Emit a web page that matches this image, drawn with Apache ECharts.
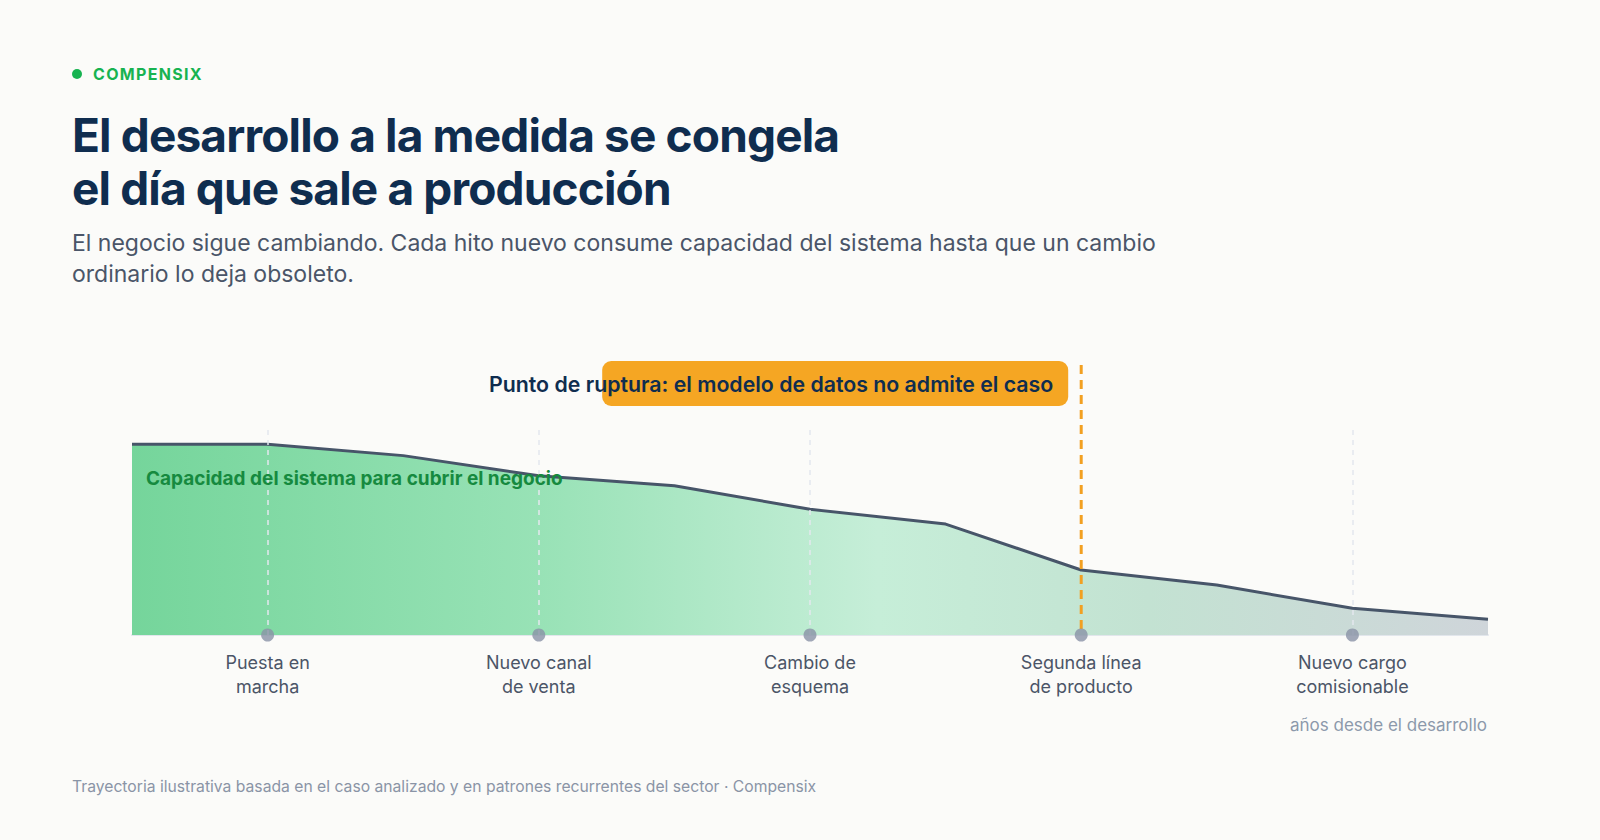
<!DOCTYPE html>
<html>
<head>
<meta charset="utf-8">
<script src="https://cdn.jsdelivr.net/npm/echarts@6/dist/echarts.min.js"></script>
<style>
  html, body { margin: 0; padding: 0; background: #fbfbf9; }
  body { width: 1600px; height: 840px; position: relative; overflow: hidden; font-family: Inter, "Noto Sans", sans-serif; }
  #chart { position: absolute; left: 0; top: 0; width: 1600px; height: 840px; }
  .brand { position: absolute; left: 72px; top: 64px; height: 20px; display: flex; align-items: center; font-weight: 700; font-size: 16px; letter-spacing: 1.3px; color: #17b351; }
  .brand i { display: inline-block; width: 10px; height: 10px; border-radius: 50%; background: #17b351; margin-right: 11px; }
  h1 { position: absolute; left: 72px; top: 109px; margin: 0; font-size: 46px; line-height: 53px; font-weight: 700; color: #0f2d4f; letter-spacing: -0.85px; }
  .sub { position: absolute; left: 72px; top: 228px; margin: 0; font-size: 23px; line-height: 31px; color: #4a5568; }
  .caption { position: absolute; right: 113px; top: 714px; font-size: 17px; line-height: 22px; color: #8c99ab; }
  .foot { position: absolute; left: 72px; top: 777px; font-size: 15.7px; line-height: 20px; color: #8a94a6; }
</style>
</head>
<body>
<div id="chart"></div>
<div class="brand"><i></i>COMPENSIX</div>
<h1>El desarrollo a la medida se congela<br>el día que sale a producción</h1>
<p class="sub">El negocio sigue cambiando. Cada hito nuevo consume capacidad del sistema hasta que un cambio<br>ordinario lo deja obsoleto.</p>
<div class="caption">años desde el desarrollo</div>
<div class="foot">Trayectoria ilustrativa basada en el caso analizado y en patrones recurrentes del sector · Compensix</div>
<script>
// ---- data ----
const years = ['0', '1', '2', '3', '4', '5', '6', '7', '8', '9', '10'];
const capacity = [93, 93, 87.5, 77.7, 72.8, 61.3, 54.1, 31.7, 24.4, 13.0, 7.7];
const milestoneYears = ['1', '3', '5', '7', '9'];
const milestoneLabels = ['Puesta en\nmarcha', 'Nuevo canal\nde venta', 'Cambio de\nesquema', 'Segunda línea\nde producto', 'Nuevo cargo\ncomisionable'];
const breakYear = '7';
const breakLabel = 'Punto de ruptura: el modelo de datos no admite el caso';
const seriesLabel = 'Capacidad del sistema para cubrir el negocio';

const FONT = 'Inter, "Noto Sans", sans-serif';
const labelFor = {};
milestoneYears.forEach((y, i) => { labelFor[y] = milestoneLabels[i]; });

const chart = echarts.init(document.getElementById('chart'), null, { renderer: 'svg' });

chart.setOption({
  backgroundColor: 'transparent',
  animation: false,
  grid: { left: 132, right: 112, top: 430, bottom: 205 },
  xAxis: {
    type: 'category',
    data: years,
    boundaryGap: false,
    axisLine: { lineStyle: { color: '#e2e6ec', width: 2 } },
    axisTick: { show: false },
    splitLine: { show: false },
    axisLabel: {
      interval: (idx, val) => milestoneYears.indexOf(val) >= 0,
      formatter: v => labelFor[v] || '',
      color: '#4b5567',
      fontSize: 18,
      lineHeight: 24,
      margin: 15,
      fontFamily: FONT
    }
  },
  yAxis: { type: 'value', min: 0, max: 100, show: false },
  series: [
    {
      type: 'line',
      data: capacity,
      symbol: 'none',
      z: 2,
      lineStyle: { color: '#475569', width: 3 },
      areaStyle: {
        opacity: 1,
        color: new echarts.graphic.LinearGradient(0, 0, 1, 0, [
          { offset: 0, color: '#75d59b' },
          { offset: 0.3, color: '#98e2b6' },
          { offset: 0.55, color: '#c6eed8' },
          { offset: 0.75, color: '#c3e2d2' },
          { offset: 1, color: '#cfd5da' }
        ])
      },
      markLine: {
        silent: true,
        symbol: 'none',
        label: { show: false },
        lineStyle: { color: '#e3e7ee', width: 1.5, type: [5, 5] },
        data: milestoneYears.filter(y => y !== breakYear).map(y => ({ xAxis: y }))
      }
    },
    {
      type: 'scatter',
      data: milestoneYears.map(y => [y, 0]),
      symbol: 'circle',
      symbolSize: 13,
      clip: false,
      z: 6,
      itemStyle: { color: '#8a92a6' }
    }
  ]
});

const bx = chart.convertToPixel({ xAxisIndex: 0 }, breakYear);
const baseY = chart.convertToPixel({ yAxisIndex: 0 }, 0);
const leftX = chart.convertToPixel({ xAxisIndex: 0 }, years[0]);

chart.setOption({
  graphic: [
    {
      type: 'line', z: 4, silent: true,
      shape: { x1: bx, y1: 365, x2: bx, y2: baseY },
      style: { stroke: '#f2a021', lineWidth: 3, lineDash: [9, 6] }
    },
    {
      type: 'rect', z: 5, silent: true,
      shape: { x: bx - 479, y: 361, width: 466, height: 45, r: 9 },
      style: { fill: '#f5a623' }
    },
    {
      type: 'text', z: 6, silent: true,
      x: bx - 28, y: 384,
      style: { text: breakLabel, font: '600 21.3px ' + FONT, fill: '#0f2d4f', align: 'right', verticalAlign: 'middle' }
    },
    {
      type: 'text', z: 7, silent: true,
      x: leftX + 14, y: 478,
      style: { text: seriesLabel, font: '700 19px ' + FONT, fill: '#168a3f', align: 'left', verticalAlign: 'middle' }
    }
  ]
});
</script>
</body>
</html>
